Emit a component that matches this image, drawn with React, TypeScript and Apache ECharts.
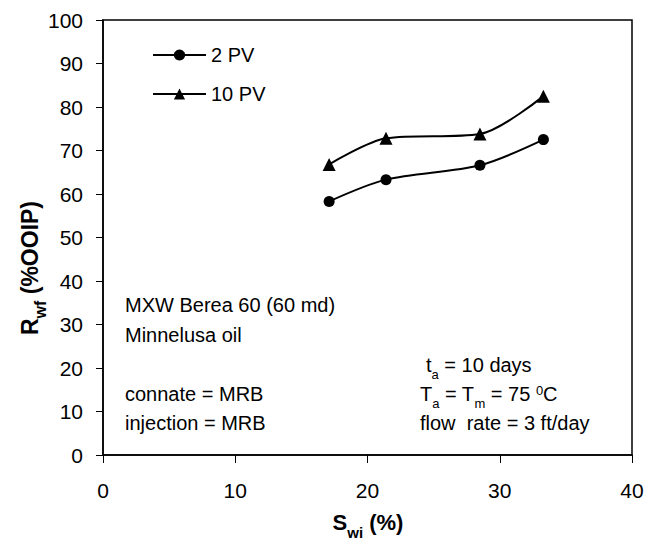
import React, { useEffect, useRef } from 'react';
import * as echarts from 'echarts';

const swi = [17.1, 21.4, 28.5, 33.3];
const rwf2PV = [58.3, 63.3, 66.6, 72.5];
const rwf10PV = [66.8, 72.8, 73.8, 82.5];
const seriesNames = ['2 PV', '10 PV'];
const leftNotes = ['MXW Berea 60 (60 md)', 'Minnelusa oil', '', 'connate = MRB', 'injection = MRB'];
const rightNotes = [
  '{n|t}{s|a}{n| = 10 days}',
  '{n|T}{s|a}{n| = T}{s|m}{n| = 75 }{p|0}{n|C}',
  '{n|flow  rate = 3 ft/day}',
];

const FONT = 'Liberation Sans, Arial, sans-serif';

const richText = {
  n: { fontSize: 20, lineHeight: 24, verticalAlign: 'top', fontFamily: FONT, fill: '#000' },
  s: { fontSize: 13, lineHeight: 13, verticalAlign: 'top', padding: [13, 0, 0, 0], fontFamily: FONT, fill: '#000' },
  p: { fontSize: 13, lineHeight: 13, verticalAlign: 'top', padding: [0, 0, 0, 0], fontFamily: FONT, fill: '#000' },
};
const richBold = {
  n: { fontSize: 22, lineHeight: 26, fontWeight: 'bold', verticalAlign: 'top', fontFamily: FONT, fill: '#000' },
  s: { fontSize: 15, lineHeight: 15, fontWeight: 'bold', verticalAlign: 'top', padding: [14, 0, 0, 0], fontFamily: FONT, fill: '#000' },
};
const richBoldY = {
  n: { fontSize: 23, lineHeight: 27, fontWeight: 'bold', verticalAlign: 'top', fontFamily: FONT, fill: '#000' },
  s: { fontSize: 16, lineHeight: 16, fontWeight: 'bold', verticalAlign: 'top', padding: [14, 0, 0, 0], fontFamily: FONT, fill: '#000' },
};

export default function App() {
  const ref = useRef<HTMLDivElement>(null);
  useEffect(() => {
    if (!ref.current) return;
    const chart = echarts.init(ref.current, undefined, { renderer: 'svg' });
    const toPairs = (ys: number[]) => swi.map((x, i) => [x, ys[i]]);
    const graphics: any[] = [];
    leftNotes.forEach((t, i) => {
      if (!t) return;
      graphics.push({
        type: 'text', x: 125, y: 305 + i * 29.5,
        style: { text: t, fontSize: 20, fontFamily: FONT, fill: '#000', align: 'left', verticalAlign: 'middle' },
      });
    });
    const rx = [426, 420, 420];
    const ry = [367, 396, 425];
    rightNotes.forEach((t, i) => {
      graphics.push({
        type: 'text', x: rx[i], y: ry[i],
        style: { text: t, rich: richText, fontSize: 20, fontFamily: FONT, fill: '#000', align: 'left', verticalAlign: 'middle' },
      });
    });
    graphics.push({
      type: 'text', x: 368, y: 524,
      style: { text: '{n|S}{s|wi}{n| (%)}', rich: richBold, fontFamily: FONT, fill: '#000', align: 'center', verticalAlign: 'middle' },
    });
    graphics.push({
      type: 'text', x: 32, y: 268, rotation: Math.PI / 2,
      style: { text: '{n|R}{s|wf}{n| (%OOIP)}', rich: richBoldY, fontFamily: FONT, fill: '#000', align: 'center', verticalAlign: 'middle' },
    });

    chart.setOption({
      animation: false,
      backgroundColor: '#fff',
      grid: { left: 103, top: 20, right: 15, bottom: 87, show: true, borderColor: '#000', borderWidth: 1.5, backgroundColor: 'transparent' },
      legend: {
        orient: 'vertical', left: 147, top: 40, itemWidth: 53, itemHeight: 14, itemGap: 19,
        data: seriesNames,
        textStyle: { fontSize: 20, lineHeight: 14, fontFamily: FONT, color: '#000' },
      },
      xAxis: {
        type: 'value', min: 0, max: 40, interval: 10,
        axisLine: { show: true, lineStyle: { color: '#000', width: 1.5 } },
        axisTick: { show: true, length: 8, lineStyle: { color: '#000', width: 1 } },
        splitLine: { show: false },
        axisLabel: { fontSize: 21, fontFamily: FONT, color: '#000', margin: 25 },
      },
      yAxis: {
        type: 'value', min: 0, max: 100, interval: 10,
        axisLine: { show: true, lineStyle: { color: '#000', width: 1.5 } },
        axisTick: { show: true, length: 7, lineStyle: { color: '#000', width: 1 } },
        splitLine: { show: false },
        axisLabel: { fontSize: 21, fontFamily: FONT, color: '#000', margin: 20 },
      },
      series: [
        {
          name: seriesNames[0], type: 'line', data: toPairs(rwf2PV), smooth: 0.3,
          symbol: 'circle', symbolSize: 11,
          lineStyle: { color: '#000', width: 2 }, itemStyle: { color: '#000' },
        },
        {
          name: seriesNames[1], type: 'line', data: toPairs(rwf10PV), smooth: 0.3,
          symbol: 'triangle', symbolSize: 13,
          lineStyle: { color: '#000', width: 2 }, itemStyle: { color: '#000' },
        },
      ],
      graphic: graphics,
    });
    return () => chart.dispose();
  }, []);
  return <div ref={ref} style={{ width: 647, height: 542, position: 'absolute', left: 0, top: 0 }} />;
}
